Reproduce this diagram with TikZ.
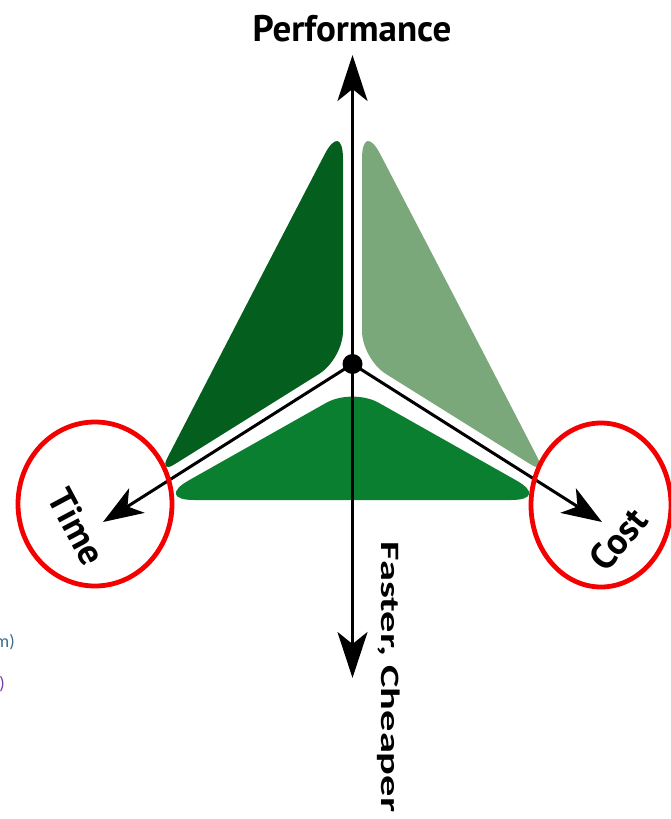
\documentclass[tikz,border=0pt]{standalone}
\usepackage{fontspec}
\setmainfont{PT Sans}
\newfontfamily\calib{Carlito}
\usetikzlibrary{arrows.meta}
\definecolor{gdark}{HTML}{045F1F}
\definecolor{glight}{HTML}{7BA87B}
\definecolor{gmid}{HTML}{0A7F2F}
\definecolor{ringred}{HTML}{F50000}
\definecolor{fragA}{HTML}{3B6E8F}
\definecolor{fragB}{HTML}{7B3F9F}
\begin{document}
\begin{tikzpicture}[x=1pt,y=-1pt,
  axis/.style={line width=3pt, black},
  vtip/.style={-{Stealth[length=46pt,width=30pt,inset=12pt]}},
  dtip/.style={-{Stealth[length=40pt,width=29pt,inset=11pt]}},
  ring/.style={draw=ringred, line width=4.8pt},
  lbl/.style={font=\fontsize{37}{40}\selectfont\bfseries, inner sep=0pt},
  frag/.style={font=\calib\fontsize{18}{20}\selectfont, inner sep=0pt, anchor=east},
]
\useasboundingbox (0,0) rectangle (671,819);
% green segments
\fill[gdark] (251,296) [rounded corners=40pt] -- (343,119) [rounded corners=28pt] -- (343,359) [rounded corners=18pt] -- (159,474) -- cycle;
\fill[glight] (454,296) [rounded corners=40pt] -- (362,119) [rounded corners=28pt] -- (362,359) [rounded corners=18pt] -- (546,474) -- cycle;
\fill[gmid] (352.5,500) [rounded corners=40pt] -- (154,500) [rounded corners=30pt] -- (352.5,388) [rounded corners=40pt] -- (551,500) -- cycle;
% centre and axis ends
\node[circle, fill=black, inner sep=0pt, minimum size=20pt] (c) at (352.5,364) {};
\coordinate (ptop) at (352.5,55);
\coordinate (pbot) at (352.5,678);
\coordinate (ptime) at (103,522);
\coordinate (pcost) at (602,522);
\draw[axis, vtip] (c.center) -- (ptop);
\draw[axis, vtip] (c.center) -- (pbot);
\draw[axis, dtip] (c.center) -- (ptime);
\draw[axis, dtip] (c.center) -- (pcost);
% labels
\node[lbl] (perf) at (352,29) {Performance};
\node[lbl, rotate=-62] (time) at (77,527) {Time};
\node[lbl, rotate=50] (cost) at (618,539) {Cost};
\node[font=\calib\bfseries\fontsize{26.5}{30}\selectfont, inner sep=0pt, rotate=-90] (fc) at (389,677) {\scalebox{1.6}[1]{Faster, Cheaper}};
% red rings
\draw[ring] (95,504) ellipse [x radius=77, y radius=82];
\draw[ring] (601,505) ellipse [x radius=70, y radius=82];
% cut-off fragments at the left edge
\node[frag, text=fragA] (fa) at (15,642) {m)};
\node[frag, text=fragB] (fb) at (5,684) {)};
\end{tikzpicture}
\end{document}
